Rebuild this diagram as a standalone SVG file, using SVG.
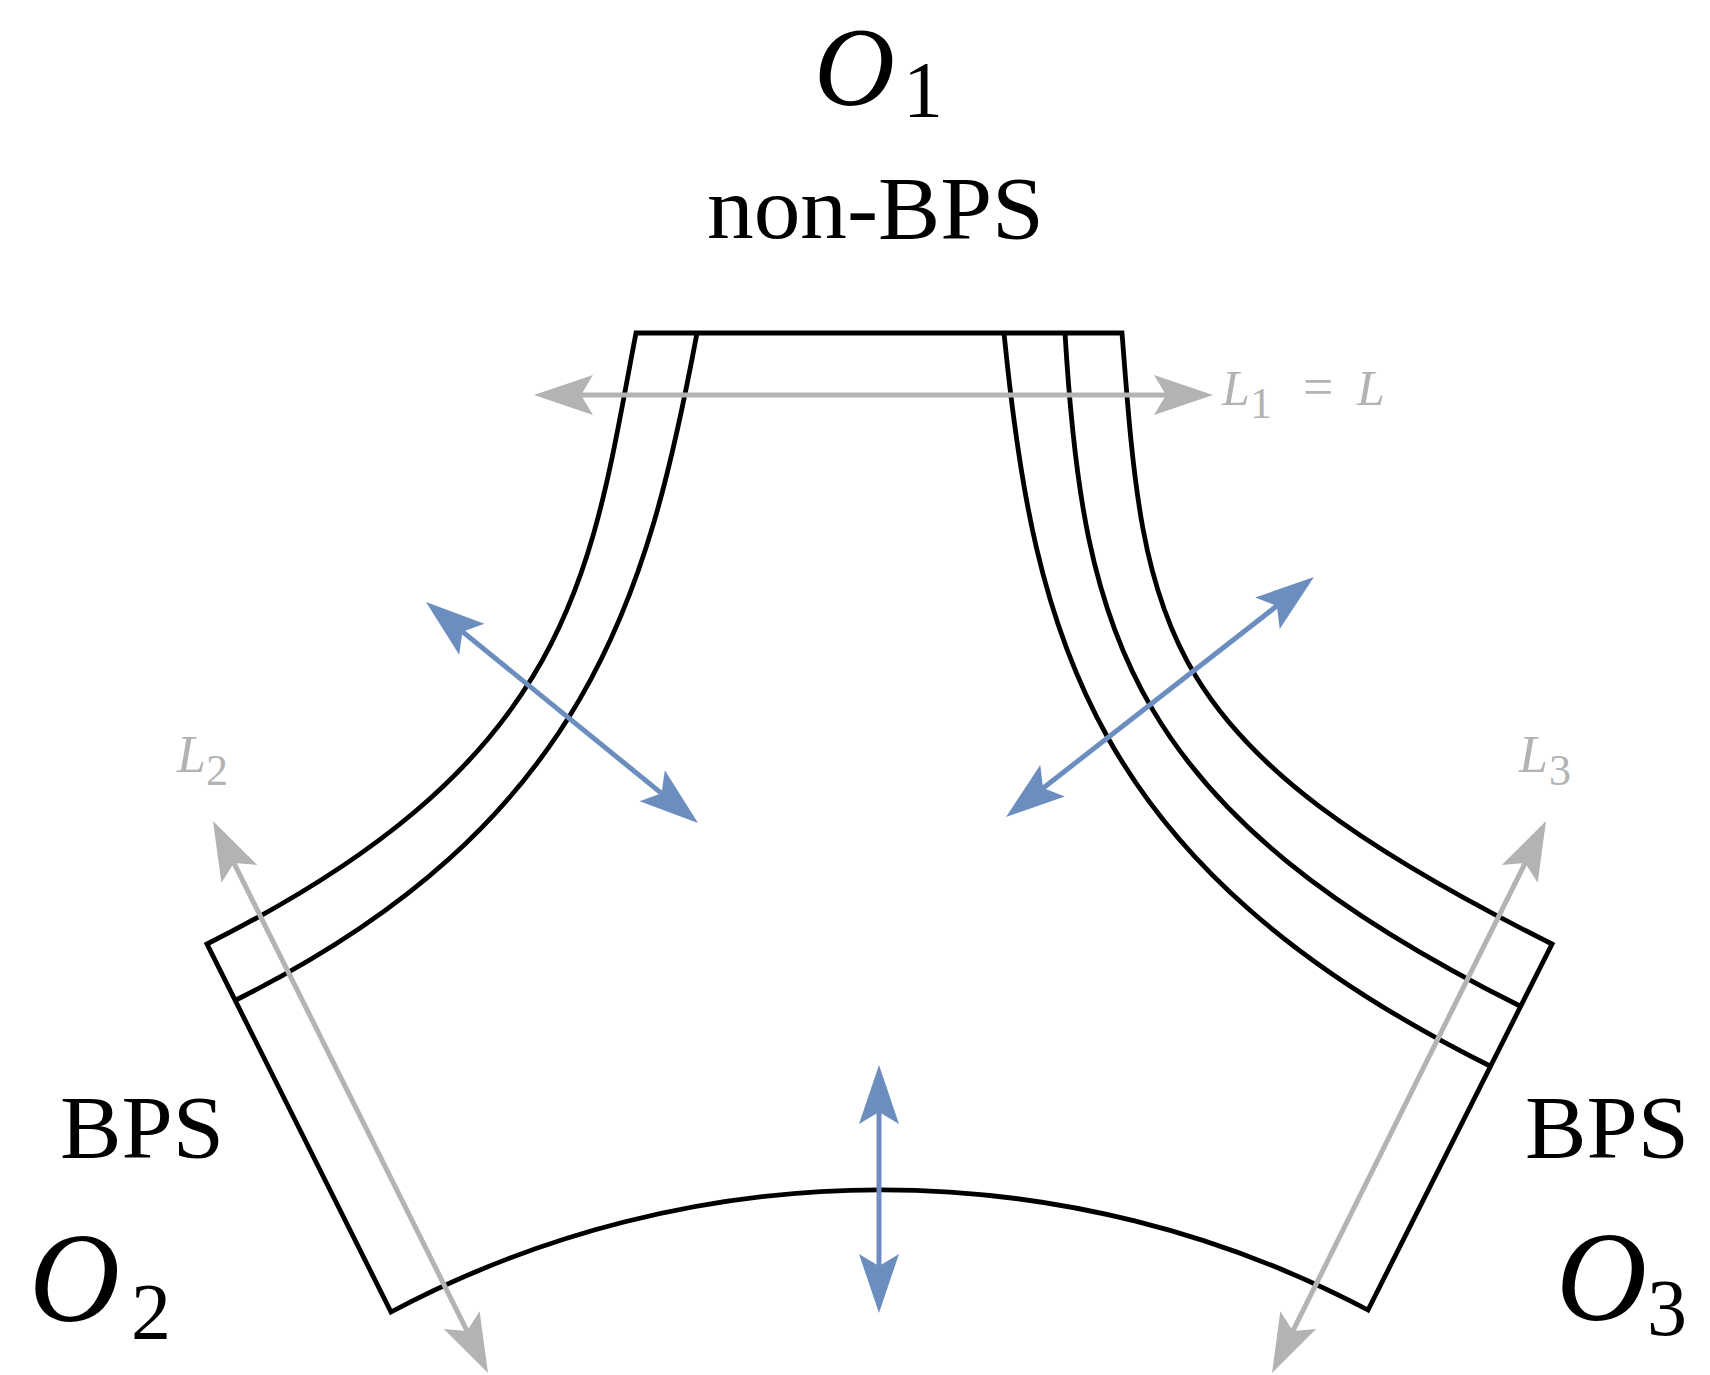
<svg xmlns="http://www.w3.org/2000/svg" width="1710" height="1375" viewBox="0 0 1710 1375">
<style>
.blk{fill:none;stroke:#000;stroke-width:4.8;stroke-linejoin:miter}
.gry{fill:none;stroke:#b3b3b3;stroke-width:5}
.blu{fill:none;stroke:#6c8ebf;stroke-width:5}
.t{font-family:"Liberation Serif","Tinos","Times New Roman",serif;fill:#000}
.m{font-family:"Liberation Serif","Tinos","Times New Roman",serif;font-style:italic}
.lg{fill:#b3b3b3}
</style>
<defs>
<marker id="ag" markerUnits="userSpaceOnUse" orient="auto-start-reverse" refX="0" refY="0" markerWidth="80" markerHeight="60" overflow="visible">
<path d="M20,0 L-39,-20 L-27,0 L-39,20 Z" fill="#b3b3b3"/>
</marker>
<marker id="ab" markerUnits="userSpaceOnUse" orient="auto-start-reverse" refX="0" refY="0" markerWidth="80" markerHeight="60" overflow="visible">
<path d="M20,0 L-39,-20 L-27,0 L-39,20 Z" fill="#6c8ebf"/>
</marker>
</defs>
<rect width="1710" height="1375" fill="#fff"/>
<g id="shape">
<path class="blk" d="M636,333 L1122,333 C1145,633 1152,744 1552,944 L1368,1310 A1045,1045 0 0 0 391,1312 L207,944 C577,759 590,573 636,333 Z"/>
<path class="blk" d="M697,333 C648,595 587,825 236,1000"/>
<path class="blk" d="M1065,333 C1083,635 1129,811 1520,1006"/>
<path class="blk" d="M1004,333 C1034,635 1089,866 1490,1066"/>
</g>
<g id="connectors">
<line class="gry" x1="554" y1="395" x2="1193" y2="395" marker-start="url(#ag)" marker-end="url(#ag)"/>
<line class="gry" x1="221.9" y1="838.9" x2="479.1" y2="1355.1" marker-start="url(#ag)" marker-end="url(#ag)"/>
<line class="gry" x1="1537.1" y1="838.9" x2="1280.9" y2="1355.1" marker-start="url(#ag)" marker-end="url(#ag)"/>
<line class="blu" x1="441.5" y1="614.6" x2="682.5" y2="810.4" marker-start="url(#ab)" marker-end="url(#ab)"/>
<line class="blu" x1="1298.2" y1="589.3" x2="1021.8" y2="804.7" marker-start="url(#ab)" marker-end="url(#ab)"/>
<line class="blu" x1="879" y1="1085" x2="879" y2="1293" marker-start="url(#ab)" marker-end="url(#ab)"/>
</g>
<g id="label-O1">
<text class="m" x="814" y="105" font-size="112">O</text>
<text class="t" x="903" y="117" font-size="80">1</text>
</g>
<g id="label-nonBPS">
<text class="t" x="707" y="238" font-size="88" textLength="337" lengthAdjust="spacingAndGlyphs">non-BPS</text>
</g>
<g id="label-L1">
<text class="m lg" x="1222" y="405" font-size="50">L</text>
<text class="t lg" x="1250" y="418" font-size="44">1</text>
<text class="t lg" x="1303" y="405" font-size="54">=</text>
<text class="m lg" x="1357" y="405" font-size="50">L</text>
</g>
<g id="label-L2">
<text class="m lg" x="177" y="772" font-size="52">L</text>
<text class="t lg" x="206" y="785" font-size="44">2</text>
</g>
<g id="label-L3">
<text class="m lg" x="1519" y="772" font-size="52">L</text>
<text class="t lg" x="1549" y="785" font-size="44">3</text>
</g>
<g id="label-BPS-left">
<text class="t" x="60" y="1157" font-size="88" textLength="164" lengthAdjust="spacingAndGlyphs">BPS</text>
</g>
<g id="label-BPS-right">
<text class="t" x="1525" y="1157" font-size="88" textLength="164" lengthAdjust="spacingAndGlyphs">BPS</text>
</g>
<g id="label-O2">
<text class="m" x="29" y="1321" font-size="126">O</text>
<text class="t" x="131" y="1339" font-size="80">2</text>
</g>
<g id="label-O3">
<text class="m" x="1556" y="1320" font-size="126">O</text>
<text class="t" x="1647" y="1335" font-size="80">3</text>
</g>
</svg>
